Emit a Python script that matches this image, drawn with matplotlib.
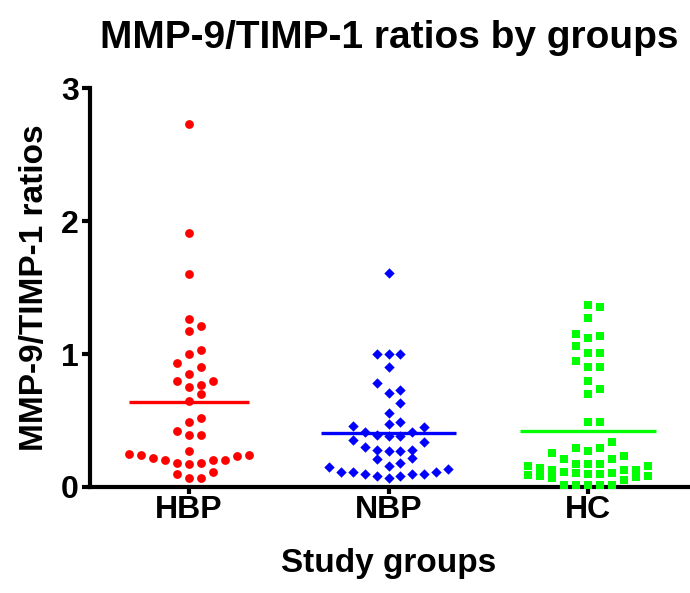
import numpy as np
import matplotlib
matplotlib.use('Agg')
import matplotlib.pyplot as plt

plt.rcParams['font.family'] = ['Liberation Sans', 'DejaVu Sans']
plt.rcParams['font.weight'] = 'bold'

groups = ['HBP', 'NBP', 'HC']
hbp = [2.73, 1.91, 1.60, 1.26, 1.21, 1.17, 1.03, 1.00, 0.93, 0.90, 0.85, 0.80,
       0.80, 0.77, 0.75, 0.70, 0.65, 0.52, 0.49, 0.42, 0.39, 0.39, 0.27, 0.25,
       0.24, 0.24, 0.23, 0.22, 0.20, 0.20, 0.20, 0.18, 0.18, 0.17, 0.11, 0.10,
       0.07, 0.07]
nbp = [1.61, 1.00, 1.00, 1.00, 0.90, 0.78, 0.73, 0.71, 0.63, 0.56, 0.49, 0.47,
       0.46, 0.45, 0.41, 0.41, 0.39, 0.38, 0.38, 0.35, 0.34, 0.30, 0.28, 0.28,
       0.27, 0.27, 0.22, 0.21, 0.18, 0.16, 0.15, 0.135, 0.115, 0.11, 0.11, 0.10,
       0.10, 0.10, 0.085, 0.085, 0.07]
hc = [1.37, 1.35, 1.27, 1.15, 1.135, 1.12, 1.06, 1.005, 1.005, 0.945, 0.90, 0.90,
      0.80, 0.74, 0.70, 0.49, 0.49, 0.34, 0.29, 0.29, 0.27, 0.255, 0.23, 0.21,
      0.21, 0.175, 0.175, 0.17, 0.16, 0.155, 0.14, 0.13, 0.13, 0.125, 0.11,
      0.105, 0.105, 0.10, 0.10, 0.09, 0.08, 0.08, 0.075, 0.07, 0.05,
      0.015, 0.015, 0.015, 0.015, 0.015]
yticks = [0, 1, 2, 3]

colors = ['#FF0000', '#0000FF', '#00FF00']
markers = ['o', 'D', 's']
msizes = [40, 28, 36]
line_half = [0.30, 0.34, 0.34]


def swarm(vals, center, h=0.09, cap=11, step=0.06):
    # prism-like spreading: points within h of a row start share a row,
    # sorted upward and placed 0, +1, -1, +2, -2 ... around the centre
    v = sorted(vals)
    xs, ys = [], []
    i = 0
    while i < len(v):
        start = v[i]
        j = i
        while j < len(v) and v[j] < start + h - 1e-9 and j - i < cap:
            j += 1
        for n in range(j - i):
            k = (n + 1) // 2 if n % 2 == 1 else -(n // 2)
            xs.append(center + k * step)
            ys.append(v[i + n])
        i = j
    return xs, ys


fig = plt.figure(figsize=(6.9, 5.93), dpi=100)
ax = fig.add_axes([90 / 690, 1 - 487 / 593, 598 / 690, 399 / 593])

for i, data in enumerate([hbp, nbp, hc]):
    xs, ys = swarm(data, i)
    ax.scatter(xs, ys, s=msizes[i], marker=markers[i], c=colors[i],
               linewidths=0, zorder=3, clip_on=False)
    m = np.mean(data)
    ax.plot([i - line_half[i], i + line_half[i]], [m, m], color=colors[i],
            lw=2.4, zorder=4, solid_capstyle='butt')

ax.set_xlim(-0.495, 2.5)
ax.set_ylim(0, 3)
ax.set_xticks(range(3))
ax.set_xticklabels(groups)
ax.set_yticks(yticks)
ax.spines['top'].set_visible(False)
ax.spines['right'].set_visible(False)
ax.spines['left'].set_linewidth(3)
ax.spines['bottom'].set_linewidth(3)
ax.tick_params(axis='y', length=6, width=3, labelsize=23, pad=2)
ax.tick_params(axis='x', length=5, width=3, labelsize=23, pad=1)

ax.set_title('MMP-9/TIMP-1 ratios by groups', fontsize=28, fontweight='bold', pad=29)
ax.set_xlabel('Study groups', fontsize=24, fontweight='bold', labelpad=16)
ax.set_ylabel('MMP-9/TIMP-1 ratios', fontsize=24, fontweight='bold', labelpad=8)

fig.savefig('out.png', dpi=100)
